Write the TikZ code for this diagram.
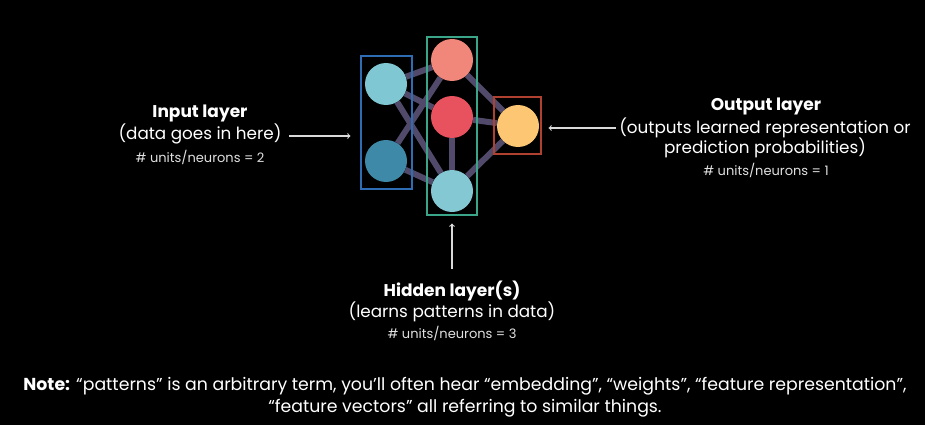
\documentclass[tikz,border=0pt]{standalone}
\usepackage{fontspec}
\setmainfont{Poppins}
\usetikzlibrary{backgrounds}

\definecolor{inA}{HTML}{80C7D4}
\definecolor{inB}{HTML}{3F89A8}
\definecolor{hidA}{HTML}{F0877A}
\definecolor{hidB}{HTML}{E8525F}
\definecolor{hidC}{HTML}{84C8D4}
\definecolor{outA}{HTML}{FDC672}
\definecolor{wire}{HTML}{524A6A}
\definecolor{inframe}{HTML}{2E6DB4}
\definecolor{hidframe}{HTML}{3BA58A}
\definecolor{outframe}{HTML}{B0402F}

\begin{document}
\begin{tikzpicture}[
    x=1pt, y=-1pt,
    neuron/.style={
      circle,
      minimum size=42pt,
      inner sep=0pt
    },
    layerbox/.style={
      rectangle,
      line width=1.2pt,
      inner sep=0pt
    },
    heading/.style={
      text=white,
      font=\bfseries\fontsize{17}{20}\selectfont
    },
    caption/.style={
      text=white,
      font=\fontsize{16.8}{20}\selectfont
    },
    units/.style={
      text=white!88!black,
      font=\fontsize{13}{15}\selectfont
    },
    wiring/.style={
      wire,
      line width=6pt
    },
    pointer/.style={
      ->,
      white!85!black,
      line width=1.1pt
    }
]

\useasboundingbox (0,0) rectangle (925,425);

\node[layerbox, draw=inframe, minimum width=51pt, minimum height=133pt] (inbox) at (386.5,122.5) {};
\node[layerbox, draw=hidframe, minimum width=50pt, minimum height=178pt] (hidbox) at (452,126) {};
\node[layerbox, draw=outframe, minimum width=47pt, minimum height=57pt] (outbox) at (517.5,125.5) {};

\node[neuron, fill=inA] (in1) at (386,84) {};
\node[neuron, fill=inB] (in2) at (386,161) {};

\node[neuron, fill=hidA] (hid1) at (452,60) {};
\node[neuron, fill=hidB] (hid2) at (452,117) {};
\node[neuron, fill=hidC] (hid3) at (452,191) {};

\node[neuron, fill=outA] (out1) at (518,126) {};

\begin{scope}[on background layer]
\fill[black] (0,0) rectangle (925,425);
\draw[wiring] (in1) -- (hid1);
\draw[wiring] (in1) -- (hid2);
\draw[wiring] (in1) -- (hid3);
\draw[wiring] (in2) -- (hid1);
\draw[wiring] (in2) -- (hid3);
\draw[wiring] (hid2) -- (hid3);
\draw[wiring] (hid1) -- (out1);
\draw[wiring] (hid2) -- (out1);
\draw[wiring] (hid3) -- (out1);
\end{scope}

% input side
\node[heading] (inhead) at (200,113) {Input layer};
\node[caption] (indata) at (200,134) {(data goes in here)};
\node[units] (inunits) at (200,157) {\# units/neurons = 2};
\draw[pointer] (indata.east) ++(4pt,-2pt) -- ([xshift=-10pt,yshift=-2pt]inbox.west |- indata.east);

% output side
\node[heading] (outhead) at (766,106) {Output layer};
\node[caption] (outdata) at (765,128) {(outputs learned representation or};
\node[caption] (outprob) at (765,148) {prediction probabilities)};
\node[units] (outunits) at (766,170) {\# units/neurons = 1};
\draw[pointer] (outdata.west) -- ([xshift=7pt]outbox.east |- outdata.west);

% hidden
\node[heading] (hidhead) at (452,291) {Hidden layer(s)};
\node[caption] (hiddata) at (452,312) {(learns patterns in data)};
\node[units] (hidunits) at (452,333) {\# units/neurons = 3};
\draw[pointer] ([yshift=8pt]hidhead.north) -- ([yshift=-8pt]hidbox.south);

% note
\node[text=white, font=\fontsize{17.3}{22}\selectfont, align=center] (note) at (465,397)
  {\textbf{Note:} “patterns” is an arbitrary term, you’ll often hear “embedding”, “weights”, “feature representation”,\\
   “feature vectors” all referring to similar things.};

\end{tikzpicture}
\end{document}
